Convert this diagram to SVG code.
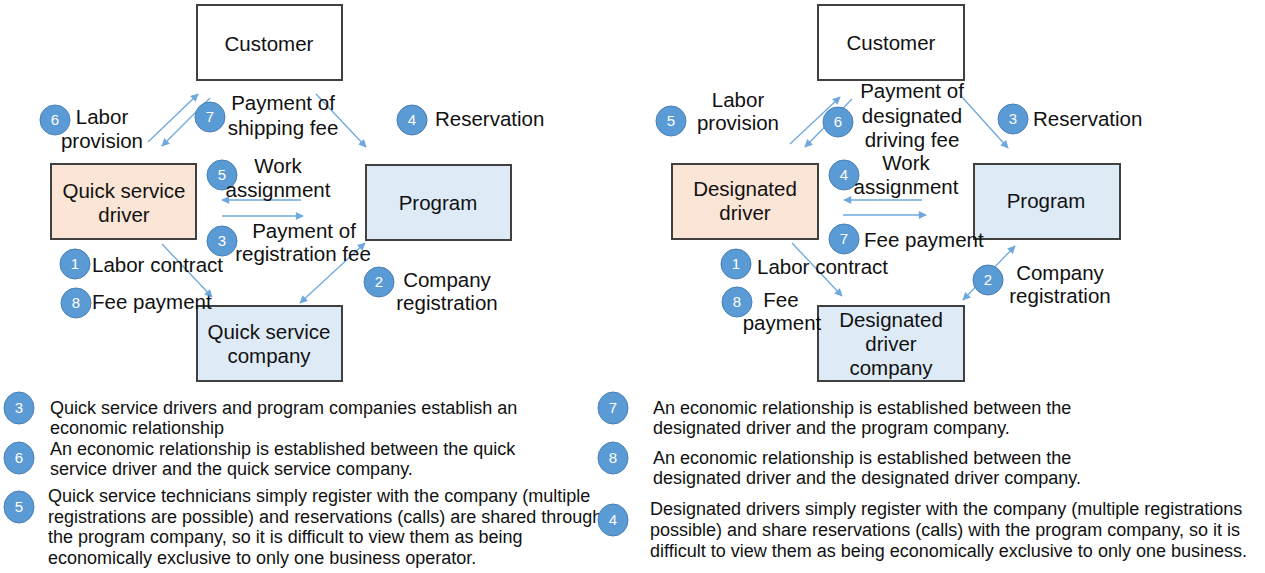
<svg xmlns="http://www.w3.org/2000/svg" width="1265" height="573" viewBox="0 0 1265 573">
<style>
text{font-family:"Liberation Sans",Arial,sans-serif;fill:#111}
.lb{font-size:20.5px}
.lbm{font-size:20.5px;text-anchor:middle}
.box{stroke:#404040;stroke-width:2}
.cust{fill:#fff}
.drv{fill:#FBE5D6}
.org{fill:#DEEBF7}
.num{fill:#5B9BD5;stroke:#4A7FB5;stroke-width:1}
.nt{font-size:15px;fill:#fff;text-anchor:middle}
.ln{stroke:#6FA8DC;stroke-width:1.3;fill:none}
.desc{font-size:18px}
</style>
<defs>
<marker id="ah" viewBox="0 0 10 10" refX="9" refY="5" markerWidth="9" markerHeight="8" markerUnits="userSpaceOnUse" orient="auto-start-reverse">
<path d="M0,0 L10,5 L0,10 z" fill="#6FA8DC"/>
</marker>
</defs>

<!-- LEFT DIAGRAM -->
<g id="l-customer"><rect class="box cust" x="197" y="5" width="145" height="75"/><text class="lbm" x="269" y="51">Customer</text></g>
<g id="l-driver"><rect class="box drv" x="51" y="164" width="145" height="75"/><text class="lbm" x="124" y="198">Quick service</text><text class="lbm" x="124" y="222">driver</text></g>
<g id="l-program"><rect class="box org" x="366" y="165" width="145" height="75"/><text class="lbm" x="438" y="210">Program</text></g>
<g id="l-company"><rect class="box org" x="197" y="306" width="145" height="75"/><text class="lbm" x="269" y="339">Quick service</text><text class="lbm" x="269" y="363">company</text></g>

<g id="l-connectors">
<line class="ln" x1="148" y1="142" x2="198" y2="94" marker-end="url(#ah)"/>
<line class="ln" x1="210" y1="98" x2="162" y2="146" marker-end="url(#ah)"/>
<line class="ln" x1="316" y1="94" x2="366" y2="147" marker-end="url(#ah)"/>
<line class="ln" x1="301" y1="200" x2="222" y2="200" marker-end="url(#ah)"/>
<line class="ln" x1="222" y1="216" x2="303" y2="216" marker-end="url(#ah)"/>
<line class="ln" x1="162" y1="244" x2="212" y2="297" marker-end="url(#ah)"/>
<line class="ln" x1="365" y1="243" x2="300" y2="303" marker-start="url(#ah)" marker-end="url(#ah)"/>
</g>

<g id="l-labels">
<circle class="num" cx="55" cy="120" r="15"/><text class="nt" x="55" y="125">6</text>
<text class="lbm" x="102" y="124">Labor</text><text class="lbm" x="102" y="148">provision</text>
<circle class="num" cx="210" cy="117" r="15"/><text class="nt" x="210" y="122">7</text>
<text class="lbm" x="283" y="110">Payment of</text><text class="lbm" x="283" y="135">shipping fee</text>
<circle class="num" cx="412" cy="120" r="15"/><text class="nt" x="412" y="125">4</text>
<text class="lb" x="435" y="126">Reservation</text>
<circle class="num" cx="222" cy="175" r="15"/><text class="nt" x="222" y="180">5</text>
<text class="lbm" x="278" y="173">Work</text><text class="lbm" x="278" y="197">assignment</text>
<circle class="num" cx="222" cy="241" r="15"/><text class="nt" x="222" y="246">3</text>
<text class="lbm" x="304" y="238">Payment of</text><text class="lbm" x="303" y="261">registration fee</text>
<circle class="num" cx="75" cy="264" r="15"/><text class="nt" x="75" y="269">1</text>
<text class="lb" x="92" y="272">Labor contract</text>
<circle class="num" cx="76" cy="303" r="15"/><text class="nt" x="76" y="308">8</text>
<text class="lb" x="92" y="309">Fee payment</text>
<circle class="num" cx="379" cy="282" r="15"/><text class="nt" x="379" y="287">2</text>
<text class="lbm" x="447" y="287">Company</text><text class="lbm" x="447" y="310">registration</text>
</g>

<!-- RIGHT DIAGRAM -->
<g id="r-customer"><rect class="box cust" x="818" y="5" width="146" height="75"/><text class="lbm" x="891" y="50">Customer</text></g>
<g id="r-driver"><rect class="box drv" x="672" y="164" width="146" height="75"/><text class="lbm" x="745" y="196">Designated</text><text class="lbm" x="745" y="220">driver</text></g>
<g id="r-program"><rect class="box org" x="974" y="164" width="146" height="75"/><text class="lbm" x="1046" y="208">Program</text></g>
<g id="r-company"><rect class="box org" x="818" y="306" width="146" height="75"/><text class="lbm" x="891" y="327">Designated</text><text class="lbm" x="891" y="351">driver</text><text class="lbm" x="891" y="375">company</text></g>

<g id="r-connectors">
<line class="ln" x1="790" y1="144" x2="840" y2="97" marker-end="url(#ah)"/>
<line class="ln" x1="852" y1="99" x2="805" y2="147" marker-end="url(#ah)"/>
<line class="ln" x1="962" y1="97" x2="1008" y2="148" marker-end="url(#ah)"/>
<line class="ln" x1="922" y1="200" x2="844" y2="200" marker-end="url(#ah)"/>
<line class="ln" x1="843" y1="215" x2="926" y2="215" marker-end="url(#ah)"/>
<line class="ln" x1="792" y1="243" x2="842" y2="296" marker-end="url(#ah)"/>
<line class="ln" x1="1015" y1="246" x2="963" y2="300" marker-start="url(#ah)" marker-end="url(#ah)"/>
</g>

<g id="r-labels">
<circle class="num" cx="671" cy="121" r="15"/><text class="nt" x="671" y="126">5</text>
<text class="lbm" x="738" y="107">Labor</text><text class="lbm" x="738" y="130">provision</text>
<circle class="num" cx="838" cy="122" r="15"/><text class="nt" x="838" y="127">6</text>
<text class="lbm" x="912" y="98">Payment of</text><text class="lbm" x="912" y="123">designated</text><text class="lbm" x="912" y="147">driving fee</text>
<circle class="num" cx="1013" cy="119" r="15"/><text class="nt" x="1013" y="124">3</text>
<text class="lb" x="1033" y="126">Reservation</text>
<circle class="num" cx="844" cy="175" r="15"/><text class="nt" x="844" y="180">4</text>
<text class="lbm" x="906" y="170">Work</text><text class="lbm" x="906" y="194">assignment</text>
<circle class="num" cx="844" cy="239" r="15"/><text class="nt" x="844" y="244">7</text>
<text class="lb" x="864" y="247">Fee payment</text>
<circle class="num" cx="736" cy="264" r="15"/><text class="nt" x="736" y="269">1</text>
<text class="lb" x="757" y="274">Labor contract</text>
<circle class="num" cx="737" cy="302" r="15"/><text class="nt" x="737" y="307">8</text>
<text class="lbm" x="781" y="307">Fee</text><text class="lbm" x="782" y="330">payment</text>
<circle class="num" cx="988" cy="280" r="15"/><text class="nt" x="988" y="285">2</text>
<text class="lbm" x="1060" y="280">Company</text><text class="lbm" x="1060" y="303">registration</text>
</g>

<!-- NOTES -->
<g id="notes-left">
<ellipse class="num" cx="19" cy="408" rx="15" ry="16"/><text class="nt" x="19" y="413">3</text>
<text class="desc" x="50" y="414">Quick service drivers and program companies establish an</text>
<text class="desc" x="50" y="434">economic relationship</text>
<ellipse class="num" cx="19" cy="458" rx="15" ry="16"/><text class="nt" x="19" y="463">6</text>
<text class="desc" x="50" y="455">An economic relationship is established between the quick</text>
<text class="desc" x="50" y="475">service driver and the quick service company.</text>
<ellipse class="num" cx="19" cy="507" rx="15" ry="16"/><text class="nt" x="19" y="512">5</text>
<text class="desc" x="48" y="502">Quick service technicians simply register with the company (multiple</text>
<text class="desc" x="48" y="523">registrations are possible) and reservations (calls) are shared through</text>
<text class="desc" x="48" y="543">the program company, so it is difficult to view them as being</text>
<text class="desc" x="48" y="564">economically exclusive to only one business operator.</text>
</g>
<g id="notes-right">
<ellipse class="num" cx="613" cy="408" rx="15" ry="16"/><text class="nt" x="613" y="413">7</text>
<text class="desc" x="653" y="414">An economic relationship is established between the</text>
<text class="desc" x="653" y="434">designated driver and the program company.</text>
<ellipse class="num" cx="613" cy="458" rx="15" ry="16"/><text class="nt" x="613" y="463">8</text>
<text class="desc" x="653" y="464">An economic relationship is established between the</text>
<text class="desc" x="653" y="484">designated driver and the designated driver company.</text>
<ellipse class="num" cx="613" cy="520" rx="15" ry="16"/><text class="nt" x="613" y="525">4</text>
<text class="desc" x="650" y="515">Designated drivers simply register with the company (multiple registrations</text>
<text class="desc" x="650" y="536">possible) and share reservations (calls) with the program company, so it is</text>
<text class="desc" x="650" y="557">difficult to view them as being economically exclusive to only one business.</text>
</g>
</svg>
